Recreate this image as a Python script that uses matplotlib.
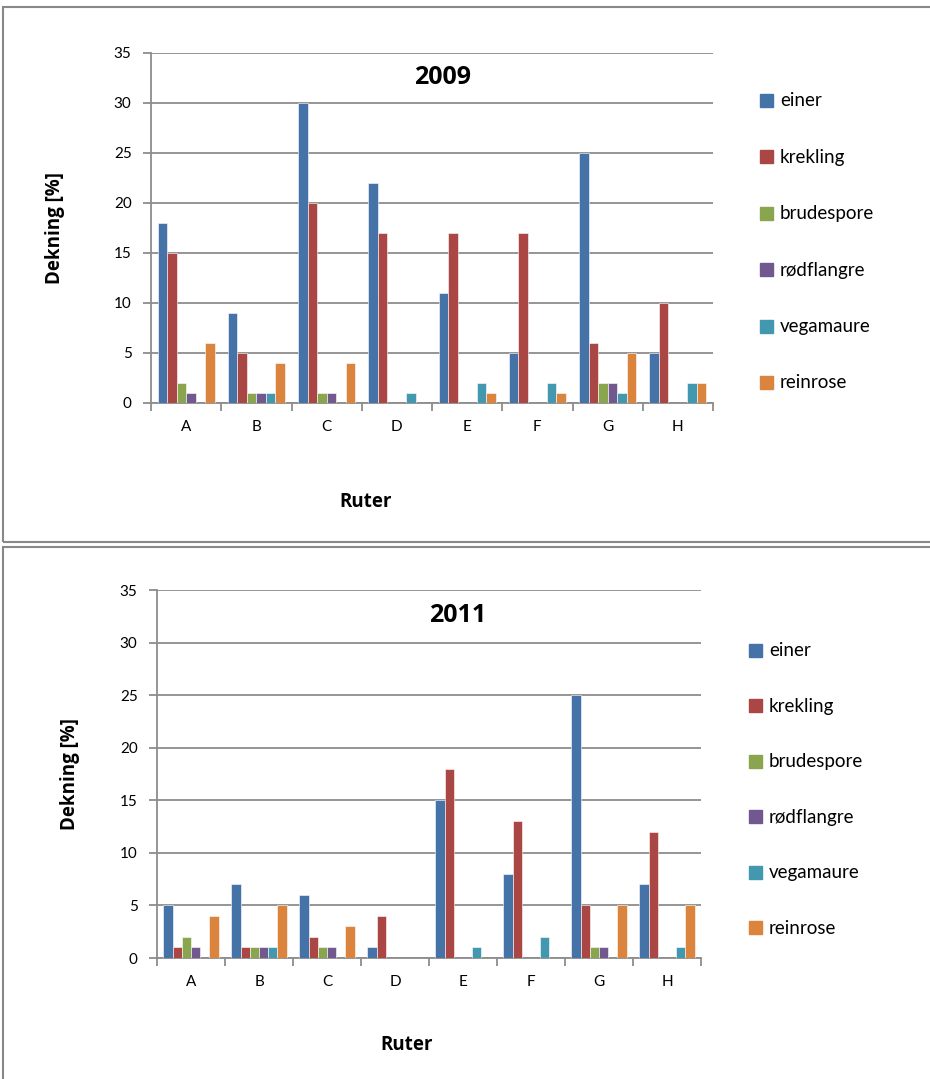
import numpy as np
import matplotlib.pyplot as plt
from matplotlib.patches import Rectangle

plt.rcParams['font.family'] = ['Lato', 'DejaVu Sans']
BOLD = ['Open Sans', 'DejaVu Sans']

routes = ['A', 'B', 'C', 'D', 'E', 'F', 'G', 'H']
species = ['einer', 'krekling', 'brudespore', 'rødflangre', 'vegamaure', 'reinrose']
colors = ['#4572A7', '#AA4643', '#89A54E', '#71588F', '#4198AF', '#DB843D']

# 2009
einer_2009 = [18, 9, 30, 22, 11, 5, 25, 5]
krekling_2009 = [15, 5, 20, 17, 17, 17, 6, 10]
brudespore_2009 = [2, 1, 1, 0, 0, 0, 2, 0]
rodflangre_2009 = [1, 1, 1, 0, 0, 0, 2, 0]
vegamaure_2009 = [0, 1, 0, 1, 2, 2, 1, 2]
reinrose_2009 = [6, 4, 4, 0, 1, 1, 5, 2]

# 2011
einer_2011 = [5, 7, 6, 1, 15, 8, 25, 7]
krekling_2011 = [1, 1, 2, 4, 18, 13, 5, 12]
brudespore_2011 = [2, 1, 1, 0, 0, 0, 1, 0]
rodflangre_2011 = [1, 1, 1, 0, 0, 0, 1, 0]
vegamaure_2011 = [0, 1, 0, 0, 1, 2, 0, 1]
reinrose_2011 = [4, 5, 3, 0, 0, 0, 5, 5]

data_2009 = [einer_2009, krekling_2009, brudespore_2009, rodflangre_2009, vegamaure_2009, reinrose_2009]
data_2011 = [einer_2011, krekling_2011, brudespore_2011, rodflangre_2011, vegamaure_2011, reinrose_2011]

W, H = 930, 1079
fig = plt.figure(figsize=(W / 100, H / 100), dpi=100)

# panel frames
for (y0, y1) in [(7, 542), (547, 1085)]:
    fig.patches.append(Rectangle((3 / W, 1 - y1 / H), (W + 10) / W, (y1 - y0) / H,
                                 transform=fig.transFigure, fill=False,
                                 edgecolor='#888888', linewidth=1.5))


def panel(box, data, title, title_xy, ylab_x, xlab_xy, leg_x, leg_y0, leg_dy):
    left, top, right, bottom = box
    ax = fig.add_axes([left / W, 1 - bottom / H, (right - left) / W, (bottom - top) / H])
    x = np.arange(len(routes))
    bw = 0.135
    for i, (vals, c) in enumerate(zip(data, colors)):
        ax.bar(x + (i - 2.5) * bw, vals, bw, color=c, edgecolor='white', linewidth=0.4,
               label=species[i], zorder=3)
    ax.set_xlim(-0.5, len(routes) - 0.5)
    ax.set_ylim(0, 35)
    ax.set_yticks(range(0, 36, 5))
    ax.yaxis.grid(True, color='#8c8c8c', linewidth=1.3)
    ax.set_axisbelow(True)
    for s in ['top', 'right']:
        ax.spines[s].set_visible(False)
    for s in ['left', 'bottom']:
        ax.spines[s].set_color('#8c8c8c')
        ax.spines[s].set_linewidth(1.3)
    ax.set_xticks(x)
    ax.set_xticklabels(routes, fontsize=11)
    ax.tick_params(axis='x', length=0, pad=12)
    ax.set_xticks(np.arange(-0.5, len(routes)), minor=True)
    ax.tick_params(axis='x', which='minor', length=6, color='#8c8c8c', width=1.3)
    ax.tick_params(axis='y', length=6, color='#8c8c8c', width=1.3, labelsize=11, pad=8)
    fig.text(title_xy[0] / W, 1 - title_xy[1] / H, title, ha='center', va='center',
             fontsize=18, fontweight='bold', family=BOLD)
    fig.text(ylab_x / W, 1 - (top + bottom) / 2 / H, 'Dekning [%]', rotation=90,
             ha='center', va='center', fontsize=13.5, fontweight='bold', family=BOLD)
    fig.text(xlab_xy[0] / W, 1 - xlab_xy[1] / H, 'Ruter', ha='center', va='center',
             fontsize=13.5, fontweight='bold', family=BOLD)
    for i, (name, c) in enumerate(zip(species, colors)):
        yy = leg_y0 + i * leg_dy
        fig.patches.append(Rectangle((leg_x / W, 1 - (yy + 6) / H), 13 / W, 13 / H,
                                     transform=fig.transFigure, color=c))
        fig.text((leg_x + 20) / W, 1 - yy / H, name, ha='left', va='center', fontsize=13.5)


panel((151, 53, 713, 403), data_2009, '2009', (443, 78), 55, (366, 502), 760, 101, 56.4)
panel((157, 590, 701, 958), data_2011, '2011', (458, 616), 70, (407, 1045), 749, 651, 55.4)

fig.savefig('out.png', dpi=100)
